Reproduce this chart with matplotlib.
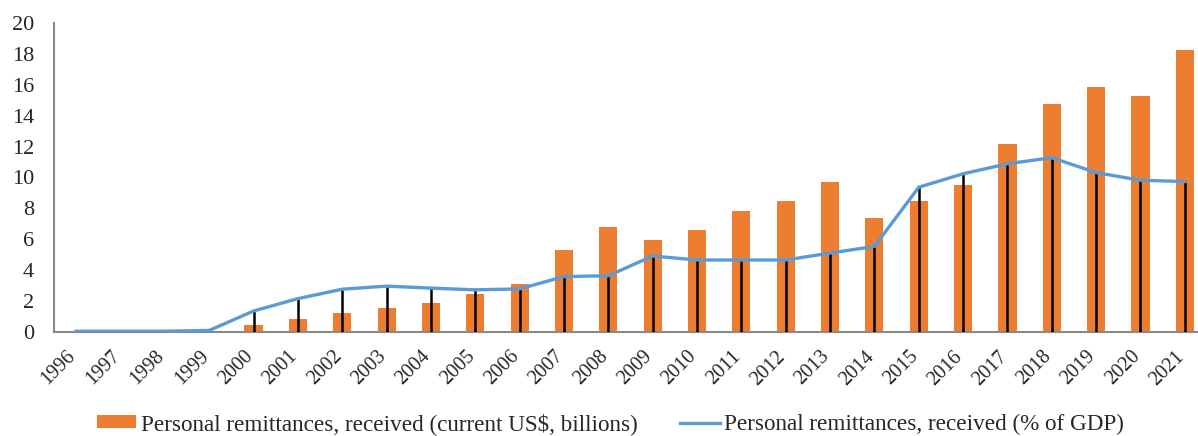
import matplotlib
matplotlib.use("Agg")
import matplotlib.pyplot as plt
import matplotlib.transforms as mtransforms
import numpy as np

years = [str(y) for y in range(1996, 2022)]
remit_usd_bn = [0, 0, 0, 0, 0.45, 0.84, 1.2, 1.56, 1.9, 2.45, 3.12, 5.32, 6.82, 5.97,
                6.58, 7.86, 8.5, 9.72, 7.4, 8.5, 9.53, 12.19, 14.76, 15.86, 15.28, 18.27]
remit_pct_gdp = [0.05, 0.05, 0.05, 0.1, 1.36, 2.16, 2.77, 2.97, 2.84, 2.73, 2.79, 3.59, 3.64, 4.92,
                 4.66, 4.66, 4.66, 5.11, 5.54, 9.37, 10.24, 10.89, 11.28, 10.32, 9.82, 9.74]
yticks = list(range(0, 21, 2))

plt.rcParams['font.family'] = ['Liberation Serif', 'DejaVu Serif']
text_color = '#262626'

fig = plt.figure(figsize=(11.98, 4.36), dpi=100)
ax = fig.add_axes([54/1198, 104/436, 1153/1198, 309/436])

x = np.arange(len(years))
bars = ax.bar(x, remit_usd_bn, width=0.41, color='#ED7D31', zorder=2,
              label='Personal remittances, received (current US$, billions)')
ax.vlines(x, 0, remit_pct_gdp, color='black', linewidth=1.8, zorder=3)
line, = ax.plot(x, remit_pct_gdp, color='#5B9BD5', linewidth=2.4, zorder=4,
                solid_joinstyle='round', label='Personal remittances, received (% of GDP)')

ax.set_xlim(-0.5, len(years) - 0.5)
ax.set_ylim(0, 20)
ax.set_yticks(yticks)
ax.set_yticklabels([str(t) for t in yticks], fontsize=16, color=text_color)
ax.set_xticks(x)
ax.set_xticklabels(years, rotation=45, ha='right', rotation_mode='anchor',
                   fontsize=14.5, color=text_color)
ax.tick_params(axis='both', length=0)
ax.tick_params(axis='y', pad=14.5)
ax.tick_params(axis='x', pad=8)
offset = mtransforms.ScaledTranslation(-10/100, -4/100, fig.dpi_scale_trans)
for lbl in ax.get_xticklabels():
    lbl.set_transform(lbl.get_transform() + offset)

for s in ['top', 'right']:
    ax.spines[s].set_visible(False)
for s in ['left', 'bottom']:
    ax.spines[s].set_color('#898989')
    ax.spines[s].set_linewidth(1.5)

fig.legend([bars, line], [bars.get_label(), line.get_label()],
           loc='center', bbox_to_anchor=(0.5095, 0.028), ncol=2, frameon=False,
           fontsize=16.7, handlelength=1.7, handleheight=0.45, handletextpad=0.2,
           columnspacing=1.85, labelcolor=text_color, borderpad=0.1)

fig.savefig('out.png', dpi=100)
